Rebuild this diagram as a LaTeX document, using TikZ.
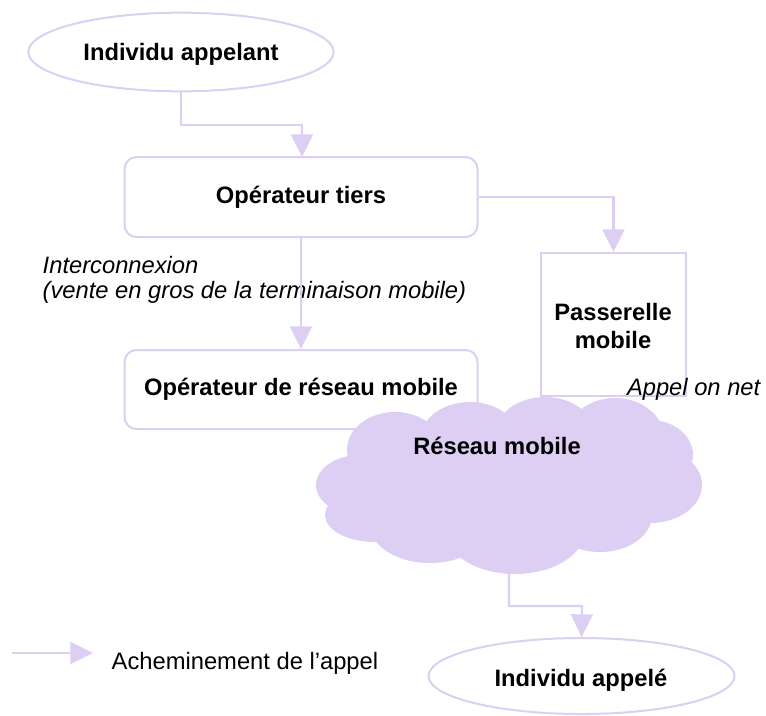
\documentclass[tikz,border=0pt]{standalone}
\usepackage{fontspec}
\setmainfont{Liberation Sans}
\usetikzlibrary{arrows.meta,shapes.geometric}
\definecolor{lil}{RGB}{220,207,243}
\tikzset{
  conn/.style={draw=lil,line width=1.6pt,-{Triangle[width=16.5pt,length=17pt]}},
  rbox/.style={draw=lil,line width=1.5pt,rounded corners=9pt,fill=white},
  sbox/.style={draw=lil,line width=1.5pt,fill=white},
  oval/.style={draw=lil,line width=1.5pt,ellipse,fill=white},
  btxt/.style={font=\fontsize{17.8}{21.5}\selectfont\bfseries,align=center},
  itxt/.style={font=\fontsize{17.8}{21.5}\selectfont\itshape,align=left},
  ntxt/.style={font=\fontsize{17.8}{21.5}\selectfont},
}
\begin{document}
\begin{tikzpicture}[x=0.75pt,y=-0.75pt]
\useasboundingbox (0,0) rectangle (766,715);
% shapes
\node[oval,minimum width=229pt,minimum height=59pt,inner sep=0pt] (appelant) at (181,52) {};
\node[btxt] at (181,54) {Individu appelant};
\node[rbox,minimum width=264.75pt,minimum height=60pt] (tiers) at (301,197) {};
\node[btxt] at (301,197) {Opérateur tiers};
\node[sbox,minimum width=108.75pt,minimum height=107.25pt] (pass) at (613.5,324.5) {};
\node[btxt] at (613,326) {Passerelle\\mobile};
\node[rbox,minimum width=264.75pt,minimum height=59.25pt] (orm) at (301,389.5) {};
\node[btxt] at (301,389) {Opérateur de réseau mobile};
% cloud
\begin{scope}[fill=lil]
\fill (395,450) ellipse [x radius=48,y radius=38];
\fill (470,440) ellipse [x radius=50,y radius=38];
\fill (545,435) ellipse [x radius=50,y radius=38];
\fill (615,440) ellipse [x radius=50,y radius=42];
\fill (650,455) ellipse [x radius=43,y radius=35];
\fill (650,485) ellipse [x radius=52,y radius=38];
\fill (360,485) ellipse [x radius=44,y radius=30];
\fill (375,515) ellipse [x radius=50,y radius=27];
\fill (430,525) ellipse [x radius=60,y radius=38];
\fill (515,530) ellipse [x radius=70,y radius=44];
\fill (600,515) ellipse [x radius=52,y radius=37];
\fill (640,495) ellipse [x radius=50,y radius=28];
\fill (510,480) ellipse [x radius=150,y radius=60];
\end{scope}
\node[btxt] (reseau) at (497,446) {Réseau mobile};
\coordinate (cloudb) at (509,572);
\node[oval,minimum width=229.5pt,minimum height=57pt,inner sep=0pt] (appele) at (581.5,676) {};
\node[btxt] at (581,680) {Individu appelé};
% labels
\node[itxt,anchor=west] (inter) at (38,265) {Interconnexion};
\node[itxt,anchor=west] (vente) at (38,292) {(vente en gros de la terminaison mobile)};
\node[itxt,anchor=east] (onnet) at (765,389) {Appel on net};
% connectors
\draw[conn] (appelant.south -| 181,0) |- (302,125) -- (302,157);
\draw[conn] (tiers.east |- 0,197) -| (pass.north);
\draw[conn] (tiers.south) -- (orm.north);
\draw[conn] (cloudb) |- (582,606) -- (appele.north);
% legend
\coordinate (lega) at (12,653);
\node[ntxt,anchor=west] (legt) at (107,663) {Acheminement de l’appel};
\draw[conn] (lega) -- (93,653);
\end{tikzpicture}
\end{document}
